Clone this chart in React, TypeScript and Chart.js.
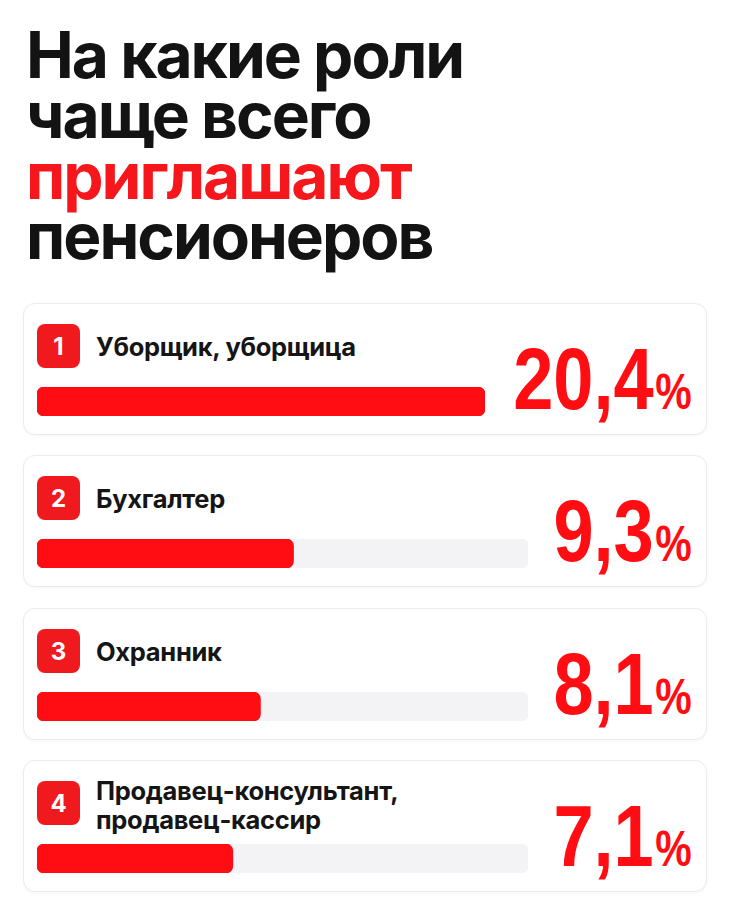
import { useEffect, useRef } from "react"
import Chart from "chart.js/auto"

const ranks = [1, 2, 3, 4]
const roles = [
  ["Уборщик, уборщица"],
  ["Бухгалтер"],
  ["Охранник"],
  ["Продавец-консультант,", "продавец-кассир"],
]
const shares = [20.4, 9.3, 8.1, 7.1]
const shareLabels = ["20,4", "9,3", "8,1", "7,1"]
// full track length in % for each card (first card has no visible track)
const trackMax = [20.4, 17.8, 17.8, 17.8]

const RED = "#ff0d12"
const TRACK = "#f3f3f5"

interface BarProps {
  value: number
  max: number
  label: string
}

function ShareBar({ value, max, label }: BarProps) {
  const canvasRef = useRef<HTMLCanvasElement>(null)
  const chartInstance = useRef<Chart | null>(null)

  useEffect(() => {
    if (!canvasRef.current) return
    if (chartInstance.current) chartInstance.current.destroy()

    chartInstance.current = new Chart(canvasRef.current, {
      type: "bar",
      data: {
        labels: [label],
        datasets: [
          {
            data: [value],
            backgroundColor: RED,
            borderRadius: 7,
            borderSkipped: false,
            barThickness: 29,
            grouped: false,
            order: 0,
          },
          {
            data: [max],
            backgroundColor: TRACK,
            borderRadius: 7,
            borderSkipped: false,
            barThickness: 29,
            grouped: false,
            order: 1,
          },
        ],
      },
      options: {
        indexAxis: "y",
        animation: false,
        responsive: true,
        maintainAspectRatio: false,
        layout: { padding: 0 },
        scales: {
          x: { display: false, min: 0, max },
          y: { display: false },
        },
        plugins: {
          legend: { display: false },
          tooltip: { enabled: false },
        },
      },
    })

    return () => {
      if (chartInstance.current) {
        chartInstance.current.destroy()
        chartInstance.current = null
      }
    }
  }, [value, max, label])

  return (
    <div style={{ position: "absolute", left: 13, top: 83, width: max === value ? 448 : 491, height: 29 }}>
      <canvas ref={canvasRef}></canvas>
    </div>
  )
}

const cardTops = [303, 455, 608, 760]
const titleLines = ["На какие роли", "чаще всего", "приглашают", "пенсионеров"]

export default function App() {
  return (
    <div
      style={{
        position: "absolute",
        left: 0,
        top: 0,
        width: 730,
        height: 911,
        background: "#ffffff",
        fontFamily: "Inter, 'Noto Sans', sans-serif",
        overflow: "hidden",
      }}
    >
      {titleLines.map((line, i) => (
        <div
          key={line}
          style={{
            position: "absolute",
            left: 26,
            top: 25 + i * 60.3,
            fontSize: 64,
            fontWeight: 700,
            lineHeight: "60px",
            letterSpacing: -2,
            color: i === 2 ? "#f5171c" : "#131313",
            whiteSpace: "nowrap",
          }}
        >
          {line}
        </div>
      ))}

      {ranks.map((rank, i) => (
        <div
          key={rank}
          style={{
            position: "absolute",
            left: 23,
            top: cardTops[i],
            width: 684,
            height: 132,
            boxSizing: "border-box",
            border: "1px solid #ebebeb",
            borderRadius: 12,
            background: "#fff",
            boxShadow: "0 1px 3px rgba(0,0,0,0.04)",
          }}
        >
          <div
            style={{
              position: "absolute",
              left: 13,
              top: 20,
              width: 43,
              height: 44,
              borderRadius: 8,
              background: "#f01a1e",
              color: "#fff",
              fontSize: 24,
              fontWeight: 700,
              display: "flex",
              alignItems: "center",
              justifyContent: "center",
            }}
          >
            {rank}
          </div>
          <div
            style={{
              position: "absolute",
              left: 72,
              top: roles[i].length > 1 ? 15 : 28,
              fontSize: 25.5,
              fontWeight: 700,
              lineHeight: "29px",
              letterSpacing: -0.3,
              color: "#151515",
            }}
          >
            {roles[i].map((line) => (
              <div key={line}>{line}</div>
            ))}
          </div>
          <div
            style={{
              position: "absolute",
              right: 14,
              top: 30,
              fontFamily: "'Liberation Sans', Arial, sans-serif",
              fontWeight: 700,
              color: RED,
              lineHeight: "90px",
              whiteSpace: "nowrap",
              transform: "scaleX(0.82)",
              transformOrigin: "right center",
            }}
          >
            <span style={{ fontSize: 88 }}>{shareLabels[i]}</span>
            <span style={{ fontSize: 50, marginLeft: 2 }}>%</span>
          </div>
          <ShareBar value={shares[i]} max={trackMax[i]} label={roles[i].join(" ")} />
        </div>
      ))}
    </div>
  )
}
